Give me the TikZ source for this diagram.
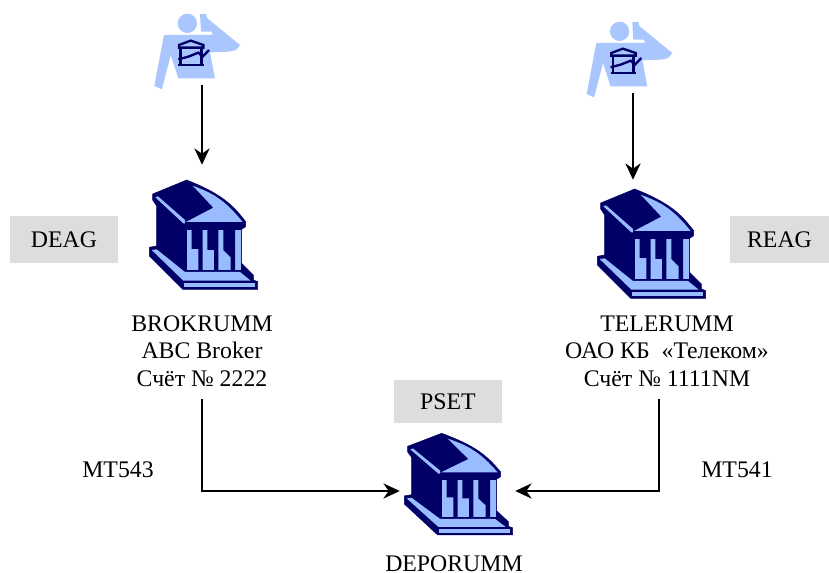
\documentclass[tikz,border=0pt]{standalone}
\usepackage{fontspec}
\setmainfont{Liberation Serif}
\usetikzlibrary{arrows.meta}
\definecolor{navy}{RGB}{0,0,102}
\definecolor{paleblue}{RGB}{153,187,255}
\definecolor{shirtblue}{RGB}{170,198,255}
\definecolor{tagfill}{RGB}{221,221,221}
\tikzset{>={Stealth[length=14pt,width=13pt]}}
\tikzset{%
    flow/.style={->,line width=1.5pt,black},
    tag/.style={fill=tagfill,inner sep=0pt,minimum height=1.4cm,minimum width=3.24cm,font=\fontsize{20.3}{24}\selectfont},
    slot/.style={inner sep=0pt,minimum width=3.36cm},
    caption/.style={align=center,inner sep=0pt,font=\fontsize{20.3}{23.6}\selectfont},
    bank/.pic={%
        \filldraw[navy] (170,30) -- (68,72) -- (68,90) -- (80,108) -- (80,228) -- (58,232) -- (58,258)
            -- (158,358) -- (383,358) -- (383,335) -- (370,330) -- (370,315) -- (335,280) -- (335,178)
            -- (347,170) -- (347,155) .. controls (305,100) and (270,70) .. (170,30) -- cycle;
        \fill[paleblue] (188,47) .. controls (250,70) and (285,90) .. (338,156) -- (168,156) -- (250,113) -- cycle;
        \fill[paleblue] (76,82) -- (84,79) -- (165,150) -- (165,160) -- (160,160) -- cycle;
        \fill[paleblue] (170,180) -- (332,180) -- (332,300) -- (170,300) -- cycle;
        \fill[navy] (185,180) -- (218,180) -- (218,300) -- (205,300) -- (205,237) -- (185,237) -- cycle;
        \fill[navy] (232,180) -- (265,180) -- (265,300) -- (252,300) -- (252,240) -- (232,240) -- cycle;
        \fill[navy] (280,180) -- (315,180) -- (315,300) -- (302,300) -- (302,262) -- (280,240) -- cycle;
        \fill[paleblue] (65,240) -- (80,238) -- (165,306) -- (330,306) -- (362,332) -- (160,332) -- cycle;
        \fill[paleblue] (163,340) -- (375,340) -- (375,351) -- (163,351) -- cycle;
    },
    person/.pic={%
        \fill[shirtblue] (172,70) circle (29);
        \fill[shirtblue] (210,42) -- (228,42) -- (232,55) -- (330,135) -- (318,150) -- (298,155) -- (240,157)
            -- (255,235) -- (145,235) -- (122,165) -- (103,240) -- (95,268) -- (73,258) -- (102,105)
            -- (248,105) -- (245,95) -- (213,95) -- cycle;
        \draw[navy,line width=2pt] (147,143) -- (147,135) -- (182,122) -- (220,135) -- (220,143) -- cycle;
        \draw[navy,line width=2pt] (152,143) -- (152,195) -- (214,195) -- (214,143);
        \draw[navy,line width=2pt] (145,195) -- (222,195);
        \draw[navy,line width=2pt] (145,178) -- (175,170) -- (205,158) -- (218,170) -- (237,150);
    }
}

\begin{document}
\begin{tikzpicture}[x=0.03cm,y=-0.03cm]
\useasboundingbox (0,0) rectangle (829,573);

% icons
\pic[scale=1/3] at (130,0) {person};
\pic[scale=1/3] at (562.3,8) {person};
\pic[scale=1/3] at (130,170) {bank};
\pic[scale=1/3] at (578,179) {bank};
\pic[xscale=1/3,yscale=0.31] at (385,424) {bank};

% slots round the icons
\node[slot,minimum height=2.13cm] (traderA) at (202,49.5) {};
\node[slot,minimum height=2.13cm] (traderB) at (633,57.5) {};
\node[slot,minimum height=3.75cm] (bankA) at (203,227.5) {};
\node[slot,minimum height=3.54cm] (bankB) at (652,239) {};
\node[slot,minimum width=3.45cm,minimum height=2.64cm] (bankC) at (457.5,491) {};

\node[tag] (deag) at (64,239.5) {DEAG};
\node[tag,minimum width=2.97cm] (reag) at (779.5,239.5) {REAG};
\node[tag,minimum height=1.29cm] (pset) at (448,401.5) {PSET};

\node[caption] (brok) at (202,351) {BROKRUMM\\ABC Broker\\Счёт № 2222};
\node[caption] (tele) at (667,351) {TELERUMM\\ОАО КБ \ «Телеком»\\Счёт № 1111NM};
\node[caption] (depo) at (454,564) {DEPORUMM};
\node[caption] (mtA) at (118,470) {MT543};
\node[caption] (mtB) at (737,470) {MT541};

\coordinate (brokout) at (202,399);
\coordinate (teleout) at (659,399);

\draw[flow] (traderA) -- (traderA |- bankA.north);
\draw[flow] (traderB) -- (traderB |- bankB.north);
\draw[flow] (brokout) |- (bankC.west);
\draw[flow] (teleout) |- (bankC.east);
\end{tikzpicture}
\end{document}
